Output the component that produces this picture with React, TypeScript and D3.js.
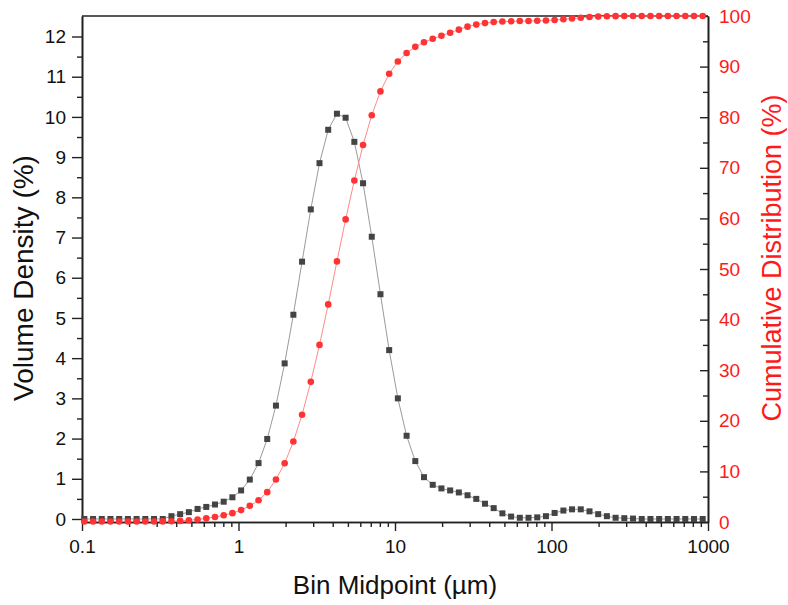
import React, { useRef, useEffect } from "react";
import * as d3 from "d3";

// bin midpoints (µm)
const binMidpoints = [
  0.1035, 0.1177, 0.1338, 0.152, 0.1728, 0.1964, 0.2233, 0.2538, 0.2885, 0.328,
  0.3728, 0.4238, 0.4817, 0.5476, 0.6224, 0.7075, 0.8043, 0.9142, 1.039, 1.181,
  1.343, 1.526, 1.735, 1.972, 2.242, 2.548, 2.897, 3.293, 3.743, 4.255,
  4.837, 5.498, 6.25, 7.104, 8.075, 9.178, 10.43, 11.86, 13.48, 15.32,
  17.42, 19.8, 22.51, 25.58, 29.08, 33.06, 37.58, 42.72, 48.56, 55.2,
  62.74, 71.32, 81.07, 92.15, 104.7, 119.1, 135.3, 153.8, 174.9, 198.8,
  225.9, 256.8, 291.9, 331.8, 377.2, 428.8, 487.4, 554.0, 629.8, 715.9,
  813.8, 925.0,
];

// volume density (%)
const volumeDensity = [
  0, 0, 0, 0, 0, 0, 0, 0, 0, 0,
  0.07, 0.12, 0.17, 0.25, 0.3, 0.36, 0.43, 0.54, 0.71, 0.98,
  1.39, 1.99, 2.82, 3.87, 5.08, 6.4, 7.7, 8.85, 9.68, 10.08,
  9.98, 9.38, 8.35, 7.02, 5.59, 4.2, 3.0, 2.07, 1.44, 1.04,
  0.85, 0.76, 0.71, 0.66, 0.59, 0.5, 0.38, 0.27, 0.14, 0.06,
  0.03, 0.03, 0.04, 0.07, 0.15, 0.21, 0.24, 0.24, 0.19, 0.12,
  0.07, 0.03, 0.02, 0.01, 0, 0, 0, 0, 0, 0,
  0, 0,
];

// cumulative distribution (%)
const cumulative = [
  0.1, 0.1, 0.1, 0.1, 0.1, 0.1, 0.1, 0.1, 0.1, 0.12,
  0.15, 0.22, 0.34, 0.5, 0.72, 0.98, 1.32, 1.75, 2.35, 3.2,
  4.3, 5.9, 8.4, 11.6, 15.9, 21.2, 27.7, 35.0, 43.0, 51.5,
  59.8, 67.5, 74.5, 80.4, 85.1, 88.6, 91.0, 92.7, 93.9, 94.8,
  95.5, 96.1, 96.7, 97.3, 97.9, 98.3, 98.6, 98.8, 98.9, 98.95,
  99.0, 99.0, 99.05, 99.1, 99.2, 99.35, 99.5, 99.65, 99.8, 99.88,
  99.94, 99.97, 99.99, 100, 100, 100, 100, 100, 100, 100,
  100, 100,
];

const xTickValues = [0.1, 1, 10, 100, 1000];
const xTickLabels = ["0.1", "1", "10", "100", "1000"];
const leftTicks = [0, 1, 2, 3, 4, 5, 6, 7, 8, 9, 10, 11, 12];
const rightTicks = [0, 10, 20, 30, 40, 50, 60, 70, 80, 90, 100];

const W = 788;
const H = 605;
const FONT = "'Liberation Sans', Arial, Helvetica, sans-serif";

export default function App() {
  const svgRef = useRef<SVGSVGElement>(null);

  useEffect(() => {
    drawChart();
  }, []);

  function drawChart() {
    const svg = d3.select(svgRef.current);
    svg.selectAll("*").remove();

    const left = 82;
    const right = 708;
    const top = 16;
    const bottom = 522;

    const xScale = d3.scaleLog().domain([0.1, 1000]).range([left, right]);
    const yLeft = d3.scaleLinear().domain([-0.075, 12.51]).range([bottom, top]);
    const yRight = d3.scaleLinear().domain([0, 100]).range([bottom, top]);

    const axisColor = "#222";
    const red = "#ff1a1a";

    // top frame line
    svg.append("line")
      .attr("x1", left).attr("x2", right).attr("y1", top).attr("y2", top)
      .attr("stroke", axisColor).attr("stroke-width", 1.6);

    // bottom axis
    const minorX: number[] = [];
    [0.1, 1, 10, 100].forEach((d) => {
      for (let k = 2; k <= 9; k++) minorX.push(d * k);
    });
    const gx = svg.append("g").attr("transform", `translate(0,${bottom})`);
    gx.call(
      d3.axisBottom(xScale).tickValues(minorX).tickSize(5).tickFormat(() => "").tickSizeOuter(0)
    );
    gx.append("g").call(
      d3.axisBottom(xScale)
        .tickValues(xTickValues)
        .tickSize(9)
        .tickSizeOuter(0)
        .tickPadding(9)
        .tickFormat((d, i) => xTickLabels[i])
    );

    // left axis
    const minorL = d3.range(0.5, 12.5, 1);
    const gl = svg.append("g").attr("transform", `translate(${left},0)`);
    gl.call(d3.axisLeft(yLeft).tickValues(minorL).tickSize(5).tickFormat(() => "").tickSizeOuter(0));
    gl.append("g").call(
      d3.axisLeft(yLeft).tickValues(leftTicks).tickSize(10).tickPadding(6).tickSizeOuter(0)
    );

    // right axis (ticks inward)
    const minorR = d3.range(5, 100, 10);
    const gr = svg.append("g").attr("transform", `translate(${right},0)`);
    gr.call(d3.axisLeft(yRight).tickValues(minorR).tickSize(5).tickFormat(() => "").tickSizeOuter(0));
    const grMajor = gr.append("g").call(
      d3.axisLeft(yRight).tickValues(rightTicks).tickSize(8).tickSizeOuter(0)
    );
    grMajor.selectAll(".tick text")
      .attr("x", 11)
      .attr("text-anchor", "start")
      .attr("fill", red);

    svg.selectAll(".domain").attr("stroke", axisColor).attr("stroke-width", 1.6);
    svg.selectAll(".tick line").attr("stroke", axisColor).attr("stroke-width", 1.4);
    svg.selectAll(".tick text")
      .attr("font-family", FONT)
      .attr("font-size", 19);
    gx.selectAll(".tick text").attr("fill", "#111");
    gl.selectAll(".tick text").attr("fill", "#111");

    // volume density series
    const volLine = d3.line<number>()
      .x((d, i) => xScale(binMidpoints[i]))
      .y((d) => yLeft(d));
    svg.append("path")
      .datum(volumeDensity)
      .attr("fill", "none")
      .attr("stroke", "#9a9a9a")
      .attr("stroke-width", 1)
      .attr("d", volLine);

    // cumulative series
    const cumLine = d3.line<number>()
      .x((d, i) => xScale(binMidpoints[i]))
      .y((d) => yRight(d));
    svg.append("path")
      .datum(cumulative)
      .attr("fill", "none")
      .attr("stroke", "#ff8a8a")
      .attr("stroke-width", 1)
      .attr("d", cumLine);

    svg.append("g")
      .selectAll("rect")
      .data(volumeDensity)
      .join("rect")
      .attr("x", (d, i) => xScale(binMidpoints[i]) - 3)
      .attr("y", (d) => yLeft(d) - 3)
      .attr("width", 6)
      .attr("height", 6)
      .attr("fill", "#444");

    svg.append("g")
      .selectAll("circle")
      .data(cumulative)
      .join("circle")
      .attr("cx", (d, i) => xScale(binMidpoints[i]))
      .attr("cy", (d) => yRight(d))
      .attr("r", 3.3)
      .attr("fill", "#ff3333");

    // axis titles
    svg.append("text")
      .attr("x", 395)
      .attr("y", 594)
      .attr("text-anchor", "middle")
      .attr("font-family", FONT)
      .attr("font-size", 26)
      .attr("fill", "#111")
      .text("Bin Midpoint (µm)");

    svg.append("text")
      .attr("transform", "translate(33,278) rotate(-90)")
      .attr("text-anchor", "middle")
      .attr("font-family", FONT)
      .attr("font-size", 28)
      .attr("fill", "#111")
      .text("Volume Density (%)");

    svg.append("text")
      .attr("transform", "translate(781,258) rotate(-90)")
      .attr("text-anchor", "middle")
      .attr("font-family", FONT)
      .attr("font-size", 27)
      .attr("fill", red)
      .text("Cumulative Distribution (%)");
  }

  return (
    <div style={{ position: "absolute", left: 0, top: 0, background: "#fff" }}>
      <svg ref={svgRef} width={W} height={H} style={{ display: "block" }} />
    </div>
  );
}
